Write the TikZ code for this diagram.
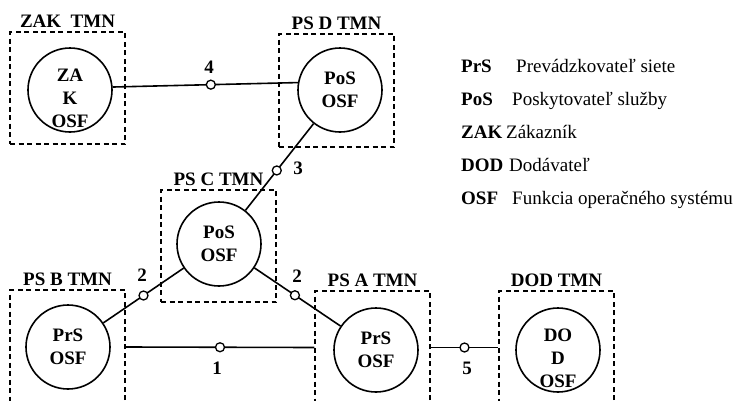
\documentclass[tikz,border=0pt]{standalone}
\usepackage{fontspec}
\setmainfont{Liberation Serif}
\usepackage{tikz}

\begin{document}
\begin{tikzpicture}[x=1pt, y=-1pt,
    font=\fontsize{19}{23}\selectfont\bfseries,
    label distance=4pt,
    tmnbox/.style={draw, dash pattern=on 5pt off 3.5pt, line width=1.2pt, inner sep=0pt,
      minimum width=115pt},
    osf/.style={circle, draw, line width=1.6pt, minimum size=84pt, inner sep=0pt, align=center},
    osftext/.style={align=center, inner sep=0pt},
    port/.style={circle, draw, line width=1.3pt, fill=white, minimum size=9pt, inner sep=0pt},
    link/.style={line width=1.6pt},
    num/.style={inner sep=0pt},
    legabbr/.style={anchor=base west, inner sep=0pt},
    legtext/.style={anchor=base west, inner sep=0pt, font=\fontsize{19}{23}\selectfont\mdseries}]

  %% Page
  \fill[white, use as bounding box] (0,0) rectangle (740,400);

  %% TMN domains (dashed)
  \node[tmnbox, minimum height=112pt, label={[num]above:ZAK~~TMN}] (zakbox) at (67.5,88) {};
  \node[tmnbox, minimum height=113pt, label={[num]above:PS D TMN}] (psdbox) at (336.5,90.5) {};
  \node[tmnbox, minimum height=112pt, label={[num]above:PS C TMN}] (pscbox) at (218.5,246) {};
  \node[tmnbox, minimum height=114pt, label={[num]above:PS B TMN}] (psbbox) at (67.5,347) {};
  \node[tmnbox, minimum height=113pt, label={[num]above:PS A TMN}] (psabox) at (372.5,347.5) {};
  \node[tmnbox, minimum height=113pt, label={[num]above:DOD TMN}] (dodbox) at (556.5,347.5) {};

  %% Operation system functions
  \node[osf] (zakosf) at (70,90) {};
  \node[osftext] (zaktext) at (70,98) {ZA\\K\\OSF};
  \node[osf] (posdosf) at (340,90) {PoS\\OSF};
  \node[osf] (poscosf) at (219,244) {PoS\\OSF};
  \node[osf] (prsbosf) at (68,347) {PrS\\OSF};
  \node[osf] (prsaosf) at (376,350) {PrS\\OSF};
  \node[osf] (dodosf) at (558,350) {};
  \node[osftext] (dodtext) at (558,358) {DO\\D\\OSF};

  %% Reference points
  \draw[link] (zakosf.4) -- node[port, pos=0.53] (p4) {} (posdosf.170);
  \draw[link] (poscosf) -- node[port, pos=0.46] (p3) {} (posdosf);
  \draw[link] (poscosf) -- node[port, pos=0.5] (p2b) {} (prsbosf);
  \draw[link] (poscosf) -- node[port, pos=0.47] (p2a) {} (prsaosf);
  \draw[link] (psbbox.east) -- node[port] (p1) {} (psabox.west);
  \draw[link] (psabox.east) -- node[port] (p5) {} (dodbox.west);

  \node[num] (n4) at (209,67) {4};
  \node[num] (n3) at (298,168) {3};
  \node[num] (n2b) at (142,275) {2};
  \node[num] (n2a) at (297,276) {2};
  \node[num] (n1) at (217,368) {1};
  \node[num] (n5) at (467,368) {5};

  %% Legend
  \node[legabbr] (lprs) at (461,72) {PrS};
  \node[legtext] (tprs) at (516,72) {Prevádzkovateľ siete};
  \node[legabbr] (lpos) at (461,105) {PoS};
  \node[legtext] (tpos) at (512,105) {Poskytovateľ služby};
  \node[legabbr] (lzak) at (461,138) {ZAK};
  \node[legtext] (tzak) at (506,138) {Zákazník};
  \node[legabbr] (ldod) at (461,171) {DOD};
  \node[legtext] (tdod) at (509,171) {Dodávateľ};
  \node[legabbr] (losf) at (461,204) {OSF};
  \node[legtext] (tosf) at (512,204) {Funkcia operačného systému};
\end{tikzpicture}
\end{document}
